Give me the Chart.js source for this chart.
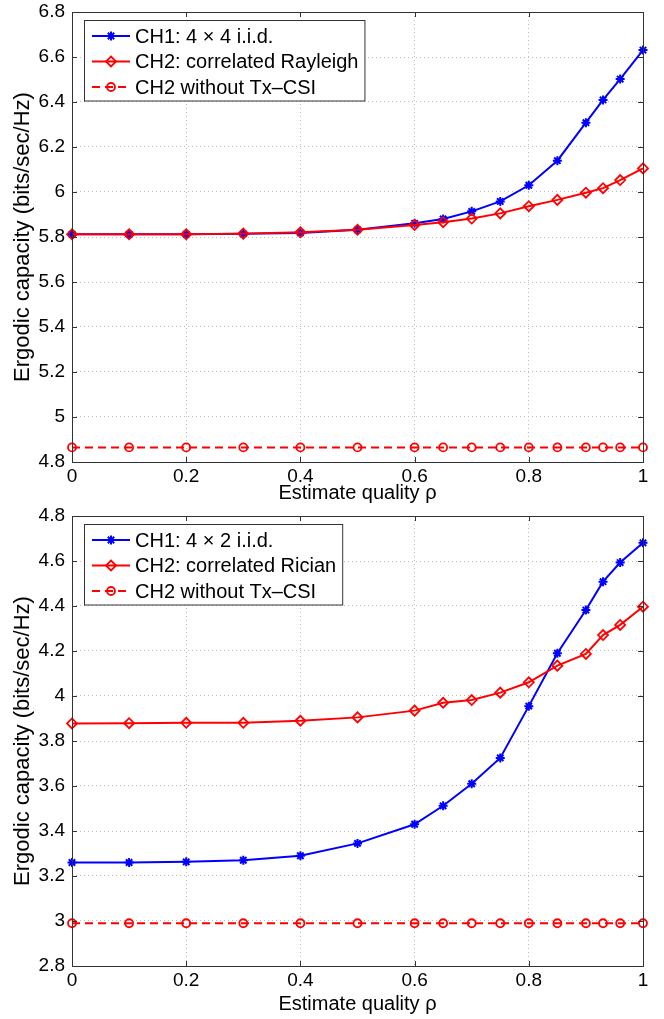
<!DOCTYPE html>
<html>
<head>
<meta charset="utf-8">
<script src="https://cdn.jsdelivr.net/npm/chart.js@4"></script>
<style>
  body { margin: 0; background: #fff; }
  .panel { position: absolute; left: 0; width: 664px; }
</style>
</head>
<body>
<div class="panel" style="top:0;height:508px"><canvas id="chart-top"></canvas></div>
<div class="panel" style="top:508px;height:511px"><canvas id="chart-bottom"></canvas></div>
<script>
/* ---------- data ---------- */

const rho = [0, 0.1, 0.2, 0.3, 0.4, 0.5, 0.6, 0.65, 0.7, 0.75, 0.8, 0.85, 0.9, 0.93, 0.96, 1];

// upper panel: 4 x 4
const ch1Top = [5.812, 5.812, 5.812, 5.814, 5.818, 5.832, 5.861, 5.880, 5.914, 5.958, 6.030, 6.139, 6.308, 6.409, 6.502, 6.631];
const ch2Top = [5.812, 5.812, 5.812, 5.815, 5.821, 5.832, 5.853, 5.866, 5.882, 5.905, 5.937, 5.965, 5.997, 6.017, 6.053, 6.105];
const noCsiTop = [4.865, 4.865, 4.865, 4.865, 4.865, 4.865, 4.865, 4.865, 4.865, 4.865, 4.865, 4.865, 4.865, 4.865, 4.865, 4.865];
const labelsTop = ["CH1: 4 \u00d7 4 i.i.d.", "CH2: correlated Rayleigh", "CH2 without Tx\u2013CSI"];
const yTicksTop = [4.8, 6.8];

// lower panel: 4 x 2
const ch1Bot = [3.260, 3.260, 3.263, 3.270, 3.290, 3.345, 3.430, 3.512, 3.610, 3.725, 3.955, 4.190, 4.382, 4.508, 4.593, 4.681];
const ch2Bot = [3.878, 3.879, 3.881, 3.881, 3.890, 3.905, 3.935, 3.970, 3.982, 4.015, 4.061, 4.135, 4.187, 4.271, 4.316, 4.397];
const noCsiBot = [2.99, 2.99, 2.99, 2.99, 2.99, 2.99, 2.99, 2.99, 2.99, 2.99, 2.99, 2.99, 2.99, 2.99, 2.99, 2.99];
const labelsBot = ["CH1: 4 \u00d7 2 i.i.d.", "CH2: correlated Rician", "CH2 without Tx\u2013CSI"];
const yTicksBot = [2.8, 4.8];

const xTitle = "Estimate quality \u03c1";
const yTitle = "Ergodic capacity (bits/sec/Hz)";

/* ---------- helpers ---------- */

const FONT = "'Liberation Sans', Arial, Helvetica, sans-serif";

function toPoints(ys) {
    return rho.map((x, i) => ({ x: x, y: ys[i] }));
}

function fmt(v) {
    return String(Math.round(v * 10) / 10);
}

// box around the axes plus MATLAB style inward ticks
const framePlugin = {
    id: 'frame',
    afterDatasetsDraw(chart) {
        const { ctx, chartArea: a, scales } = chart;
        ctx.save();
        ctx.strokeStyle = '#333';
        ctx.lineWidth = 1;
        ctx.beginPath();
        const len = 5;
        scales.x.ticks.forEach(t => {
            const px = Math.round(scales.x.getPixelForValue(t.value)) + 0.5;
            ctx.moveTo(px, a.bottom); ctx.lineTo(px, a.bottom - len);
            ctx.moveTo(px, a.top); ctx.lineTo(px, a.top + len);
        });
        scales.y.ticks.forEach(t => {
            const py = Math.round(scales.y.getPixelForValue(t.value)) + 0.5;
            ctx.moveTo(a.left, py); ctx.lineTo(a.left + len, py);
            ctx.moveTo(a.right, py); ctx.lineTo(a.right - len, py);
        });
        ctx.stroke();
        ctx.strokeRect(Math.round(a.left) + 0.5, Math.round(a.top) + 0.5,
            Math.round(a.right - a.left), Math.round(a.bottom - a.top));
        ctx.restore();
    }
};

function drawMarker(ctx, style, x, y, r) {
    ctx.beginPath();
    if (style === 'star') {
        const d = r * Math.SQRT1_2;
        ctx.moveTo(x - r, y); ctx.lineTo(x + r, y);
        ctx.moveTo(x, y - r); ctx.lineTo(x, y + r);
        ctx.moveTo(x - d, y - d); ctx.lineTo(x + d, y + d);
        ctx.moveTo(x - d, y + d); ctx.lineTo(x + d, y - d);
    } else if (style === 'rectRot') {
        ctx.moveTo(x, y - r); ctx.lineTo(x + r, y);
        ctx.lineTo(x, y + r); ctx.lineTo(x - r, y); ctx.closePath();
    } else {
        ctx.arc(x, y, r, 0, Math.PI * 2);
    }
    ctx.stroke();
}

// legend box in the upper left corner of the axes
const legendPlugin = {
    id: 'boxLegend',
    afterDraw(chart) {
        const { ctx, chartArea: a } = chart;
        const sets = chart.data.datasets;
        const left = a.left + 12, top = a.top + 8;
        const rowH = 25.5;
        ctx.save();
        ctx.font = '20px ' + FONT;
        const w = Math.max(...sets.map(s => ctx.measureText(s.label).width));
        const boxW = 51 + w + 6, boxH = rowH * sets.length + 4;
        ctx.fillStyle = '#fff';
        ctx.fillRect(left, top, boxW, boxH);
        ctx.strokeStyle = '#333';
        ctx.lineWidth = 1;
        ctx.strokeRect(left + 0.5, top + 0.5, boxW, boxH);
        sets.forEach((s, i) => {
            const y = top + 16 + i * rowH;
            ctx.strokeStyle = s.borderColor;
            ctx.lineWidth = s.borderWidth;
            ctx.setLineDash(s.borderDash || []);
            ctx.beginPath();
            ctx.moveTo(left + 8, y); ctx.lineTo(left + 46, y);
            ctx.stroke();
            ctx.setLineDash([]);
            ctx.lineWidth = s.pointBorderWidth;
            drawMarker(ctx, s.pointStyle, left + 27, y, s.pointRadius);
            ctx.fillStyle = '#000';
            ctx.textBaseline = 'middle';
            ctx.fillText(s.label, left + 51, y + 1);
        });
        ctx.restore();
    }
};

function makeChart(id, labels, ch1, ch2, noCsi, yRange, padTop, xHeight) {
    const datasets = [
        {
            label: labels[0], data: toPoints(ch1), order: 3,
            borderColor: '#0000ff', borderWidth: 2,
            pointStyle: 'star', pointRadius: 4.5, pointBorderWidth: 2,
            pointBorderColor: '#0000ff'
        },
        {
            label: labels[1], data: toPoints(ch2), order: 2,
            borderColor: '#ff0000', borderWidth: 2,
            pointStyle: 'rectRot', pointRadius: 5, pointBorderWidth: 1.8,
            pointBorderColor: '#ff0000', pointBackgroundColor: 'rgba(0,0,0,0)'
        },
        {
            label: labels[2], data: toPoints(noCsi), order: 1,
            borderColor: '#ff0000', borderWidth: 2, borderDash: [8, 5],
            pointStyle: 'circle', pointRadius: 4, pointBorderWidth: 1.8,
            pointBorderColor: '#ff0000', pointBackgroundColor: 'rgba(0,0,0,0)'
        }
    ];

    return new Chart(document.getElementById(id), {
        type: 'line',
        data: { datasets: datasets },
        options: {
            responsive: true,
            maintainAspectRatio: false,
            animation: false,
            clip: false,
            layout: { padding: { top: padTop, right: 21, left: 0, bottom: 0 } },
            elements: { line: { tension: 0, fill: false } },
            plugins: { legend: { display: false }, tooltip: { enabled: false } },
            scales: {
                x: {
                    type: 'linear', min: 0, max: 1,
                    afterFit: s => { s.height = xHeight; },
                    ticks: { stepSize: 0.2, padding: 3, color: '#000', font: { family: FONT, size: 19 }, callback: fmt, maxRotation: 0 },
                    grid: { color: '#bdbdbd', drawTicks: false },
                    border: { display: false, dash: [1, 3] },
                    title: { display: true, text: xTitle, color: '#000', font: { family: FONT, size: 20 }, padding: { top: 0, bottom: 3 } }
                },
                y: {
                    min: yRange[0], max: yRange[1],
                    afterFit: s => { s.width = 72; s.paddingTop = 0; s.paddingBottom = 0; },
                    ticks: { stepSize: 0.2, padding: 7, color: '#000', font: { family: FONT, size: 19 }, callback: fmt, autoSkip: false },
                    grid: { color: '#bdbdbd', drawTicks: false },
                    border: { display: false, dash: [1, 3] },
                    title: { display: true, text: yTitle, color: '#000', font: { family: FONT, size: 22 }, padding: { top: 10, bottom: 0 } }
                }
            }
        },
        plugins: [framePlugin, legendPlugin]
    });
}

makeChart('chart-top', labelsTop, ch1Top, ch2Top, noCsiTop, yTicksTop, 12, 46);
makeChart('chart-bottom', labelsBot, ch1Bot, ch2Bot, noCsiBot, yTicksBot, 8, 53);
</script>
</body>
</html>
